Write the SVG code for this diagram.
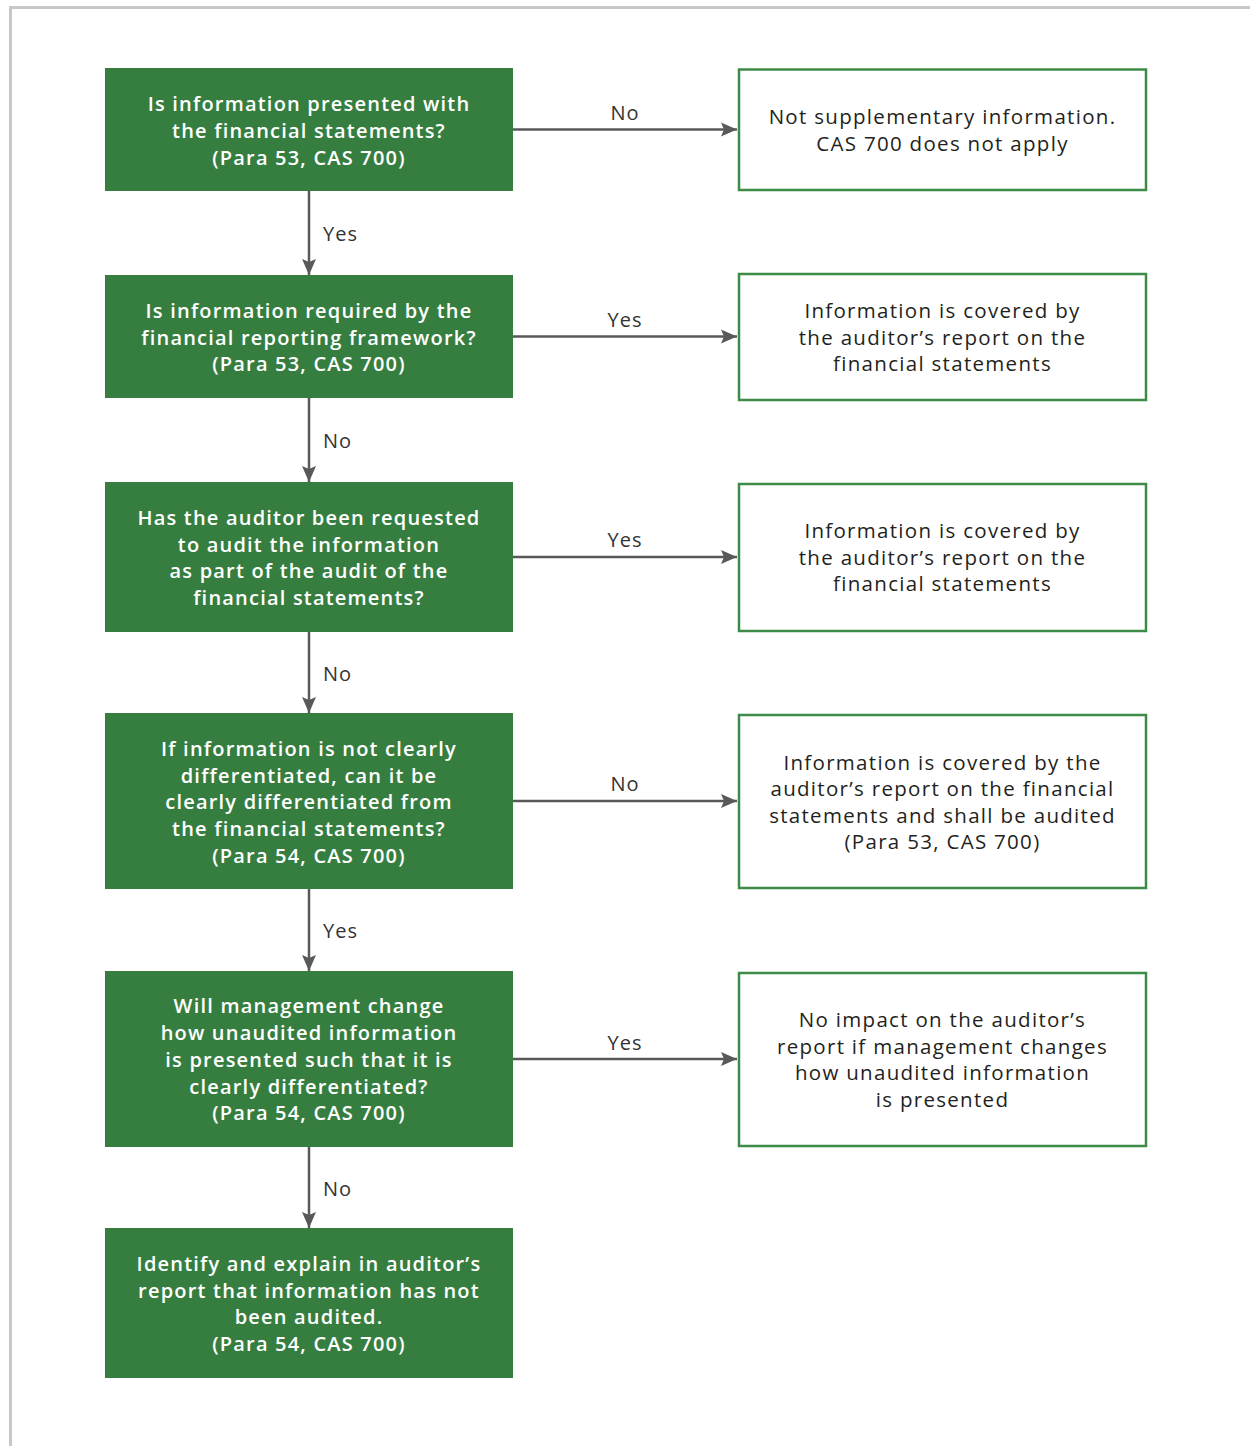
<svg xmlns="http://www.w3.org/2000/svg" width="1250" height="1446" viewBox="0 0 1250 1446">
<style>
.q{fill:#367e3f}
.a{fill:#fff;stroke:#3d8b47;stroke-width:2.5}
.qt{font-family:"Open Sans","DejaVu Sans",sans-serif;font-weight:600;font-size:20px;fill:#fff;text-anchor:middle;letter-spacing:1.2px}
.at{font-family:"Open Sans","DejaVu Sans",sans-serif;font-weight:400;font-size:20.5px;fill:#231f20;text-anchor:middle;letter-spacing:1.3px}
.lbl{font-family:"Open Sans","DejaVu Sans",sans-serif;font-weight:400;font-size:20px;fill:#333;letter-spacing:1px}
.c{stroke:#58595b;stroke-width:2.5;fill:none}
</style>
<defs>
<marker id="ah" markerUnits="userSpaceOnUse" markerWidth="18" markerHeight="16" refX="16" refY="8" orient="auto">
<path d="M0,1 L16,8 L0,15 L3,8 z" fill="#58595b"/>
</marker>
</defs>
<rect x="0" y="0" width="1250" height="1446" fill="#fff"/>
<path d="M10.5,1446 V7.5 H1250" fill="none" stroke="#c8c8c8" stroke-width="3"/>

<g id="connectors">
<line class="c" x1="309" y1="191" x2="309" y2="275" marker-end="url(#ah)"/>
<line class="c" x1="309" y1="398" x2="309" y2="482" marker-end="url(#ah)"/>
<line class="c" x1="309" y1="632" x2="309" y2="713" marker-end="url(#ah)"/>
<line class="c" x1="309" y1="889" x2="309" y2="971" marker-end="url(#ah)"/>
<line class="c" x1="309" y1="1147" x2="309" y2="1228" marker-end="url(#ah)"/>
<line class="c" x1="513" y1="129.5" x2="737" y2="129.5" marker-end="url(#ah)"/>
<line class="c" x1="513" y1="336.5" x2="737" y2="336.5" marker-end="url(#ah)"/>
<line class="c" x1="513" y1="557" x2="737" y2="557" marker-end="url(#ah)"/>
<line class="c" x1="513" y1="801" x2="737" y2="801" marker-end="url(#ah)"/>
<line class="c" x1="513" y1="1059" x2="737" y2="1059" marker-end="url(#ah)"/>
<text class="lbl" x="323" y="241">Yes</text>
<text class="lbl" x="323" y="448">No</text>
<text class="lbl" x="323" y="681">No</text>
<text class="lbl" x="323" y="938">Yes</text>
<text class="lbl" x="323" y="1196">No</text>
<text class="lbl" x="625" y="120" text-anchor="middle">No</text>
<text class="lbl" x="625" y="327" text-anchor="middle">Yes</text>
<text class="lbl" x="625" y="547" text-anchor="middle">Yes</text>
<text class="lbl" x="625" y="791" text-anchor="middle">No</text>
<text class="lbl" x="625" y="1050" text-anchor="middle">Yes</text>
</g>

<g id="q1">
<rect class="q" x="105" y="68" width="408" height="123"/>
<text class="qt" x="309" y="111">Is information presented with</text>
<text class="qt" x="309" y="138">the financial statements?</text>
<text class="qt" x="309" y="165">(Para 53, CAS 700)</text>
</g>
<g id="q2">
<rect class="q" x="105" y="275" width="408" height="123"/>
<text class="qt" x="309" y="318">Is information required by the</text>
<text class="qt" x="309" y="345">financial reporting framework?</text>
<text class="qt" x="309" y="371">(Para 53, CAS 700)</text>
</g>
<g id="q3">
<rect class="q" x="105" y="482" width="408" height="150"/>
<text class="qt" x="309" y="525">Has the auditor been requested</text>
<text class="qt" x="309" y="552">to audit the information</text>
<text class="qt" x="309" y="578">as part of the audit of the</text>
<text class="qt" x="309" y="605">financial statements?</text>
</g>
<g id="q4">
<rect class="q" x="105" y="713" width="408" height="176"/>
<text class="qt" x="309" y="756">If information is not clearly</text>
<text class="qt" x="309" y="783">differentiated, can it be</text>
<text class="qt" x="309" y="809">clearly differentiated from</text>
<text class="qt" x="309" y="836">the financial statements?</text>
<text class="qt" x="309" y="863">(Para 54, CAS 700)</text>
</g>
<g id="q5">
<rect class="q" x="105" y="971" width="408" height="176"/>
<text class="qt" x="309" y="1013">Will management change</text>
<text class="qt" x="309" y="1040">how unaudited information</text>
<text class="qt" x="309" y="1067">is presented such that it is</text>
<text class="qt" x="309" y="1094">clearly differentiated?</text>
<text class="qt" x="309" y="1120">(Para 54, CAS 700)</text>
</g>
<g id="q6">
<rect class="q" x="105" y="1228" width="408" height="150"/>
<text class="qt" x="309" y="1271">Identify and explain in auditor’s</text>
<text class="qt" x="309" y="1298">report that information has not</text>
<text class="qt" x="309" y="1324">been audited.</text>
<text class="qt" x="309" y="1351">(Para 54, CAS 700)</text>
</g>

<g id="r1">
<rect class="a" x="739" y="69.5" width="407" height="120.5"/>
<text class="at" x="942.5" y="124">Not supplementary information.</text>
<text class="at" x="942.5" y="151">CAS 700 does not apply</text>
</g>
<g id="r2">
<rect class="a" x="739" y="274" width="407" height="126"/>
<text class="at" x="942.5" y="318">Information is covered by</text>
<text class="at" x="942.5" y="345">the auditor’s report on the</text>
<text class="at" x="942.5" y="371">financial statements</text>
</g>
<g id="r3">
<rect class="a" x="739" y="484" width="407" height="147"/>
<text class="at" x="942.5" y="538">Information is covered by</text>
<text class="at" x="942.5" y="565">the auditor’s report on the</text>
<text class="at" x="942.5" y="591">financial statements</text>
</g>
<g id="r4">
<rect class="a" x="739" y="715" width="407" height="173"/>
<text class="at" x="942.5" y="770">Information is covered by the</text>
<text class="at" x="942.5" y="796">auditor’s report on the financial</text>
<text class="at" x="942.5" y="823">statements and shall be audited</text>
<text class="at" x="942.5" y="849">(Para 53, CAS 700)</text>
</g>
<g id="r5">
<rect class="a" x="739" y="973" width="407" height="173"/>
<text class="at" x="942.5" y="1027">No impact on the auditor’s</text>
<text class="at" x="942.5" y="1054">report if management changes</text>
<text class="at" x="942.5" y="1080">how unaudited information</text>
<text class="at" x="942.5" y="1107">is presented</text>
</g>
</svg>
